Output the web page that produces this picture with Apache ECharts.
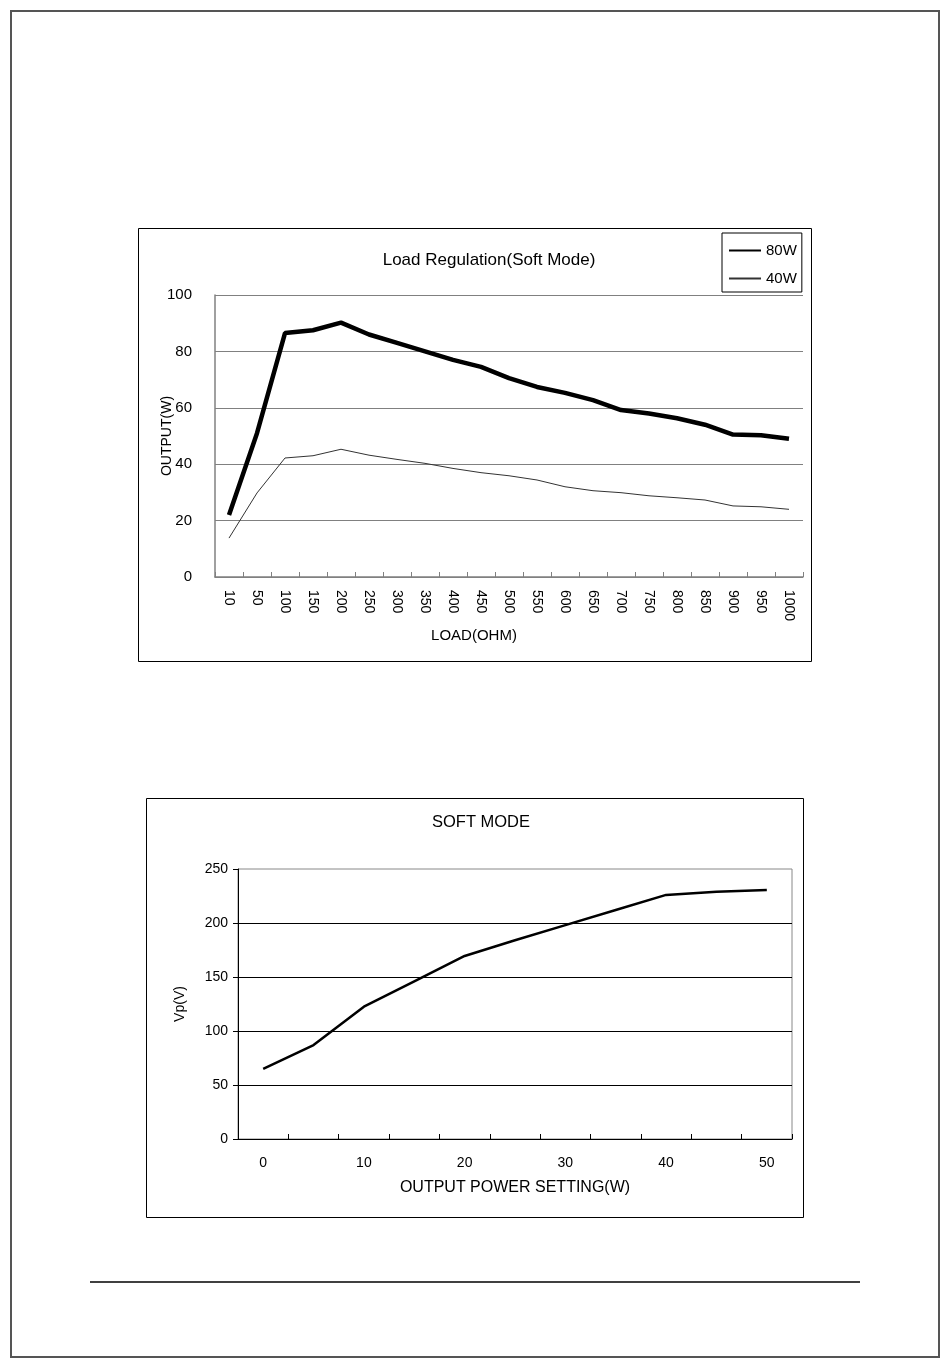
<!DOCTYPE html>
<html>
<head>
<meta charset="utf-8">
<script src="https://cdn.jsdelivr.net/npm/echarts@6/dist/echarts.min.js"></script>
<style>
html,body{margin:0;padding:0;background:#fff;}
#main{width:950px;height:1368px;}
</style>
</head>
<body>
<div id="main"></div>
<script>
// ---- Data ----
var loadCats = ['10','50','100','150','200','250','300','350','400','450','500','550','600','650','700','750','800','850','900','950','1000'];
var out80 = [22, 51, 86.5, 87.5, 90.2, 86, 83, 80, 77, 74.5, 70.5, 67.4, 65.3, 62.7, 59.2, 58, 56.3, 54, 50.5, 50.3, 49];
var out40 = [13.8, 29.8, 42.2, 43, 45.3, 43.2, 41.7, 40.3, 38.5, 37, 35.9, 34.4, 32, 30.6, 29.9, 28.8, 28.1, 27.3, 25.2, 24.9, 24];
var powerCats = ['0','5','10','15','20','25','30','35','40','45','50'];
var vp = [65, 87, 122.5, 146, 169.5, 184, 198, 212, 226, 229, 230.5];

var FONT = '"Liberation Sans", Arial, sans-serif';
var chart = echarts.init(document.getElementById('main'), null, {renderer: 'canvas'});

var option = {
  backgroundColor: '#fff',
  animation: false,
  textStyle: {fontFamily: FONT, color: '#000'},
  graphic: [
    {type: 'rect', shape: {x: 11, y: 11, width: 928, height: 1346}, style: {fill: 'none', stroke: '#555', lineWidth: 2}, silent: true},
    {type: 'rect', shape: {x: 138.5, y: 228.5, width: 673, height: 433}, style: {fill: 'none', stroke: '#000', lineWidth: 1}, silent: true},
    {type: 'rect', shape: {x: 146.5, y: 798.5, width: 657, height: 419}, style: {fill: 'none', stroke: '#000', lineWidth: 1}, silent: true},
    {type: 'line', shape: {x1: 90, y1: 1282, x2: 860, y2: 1282}, style: {stroke: '#000', lineWidth: 1.5}, silent: true},
    {type: 'text', x: 489, y: 260, style: {text: 'Load Regulation(Soft Mode)', font: '17px ' + FONT, fill: '#000', textAlign: 'center', textVerticalAlign: 'middle'}, silent: true},
    {type: 'text', x: 481, y: 822, style: {text: 'SOFT MODE', font: '16.5px ' + FONT, fill: '#000', textAlign: 'center', textVerticalAlign: 'middle'}, silent: true}
  ],
  legend: {
    data: ['80W', '40W'],
    orient: 'vertical',
    left: 722, top: 233,
    padding: [10, 5, 6, 6],
    itemWidth: 32, itemHeight: 14, itemGap: 13,
    itemStyle: {opacity: 0},
    borderColor: '#000', borderWidth: 1,
    textStyle: {fontSize: 15, fontFamily: FONT, color: '#000'}
  },
  grid: [
    {left: 215, right: 147, top: 295, bottom: 791, containLabel: false},
    {left: 238, right: 158, top: 869, bottom: 229, containLabel: false, show: true, borderColor: '#888', borderWidth: 1, backgroundColor: 'transparent'}
  ],
  xAxis: [
    {
      gridIndex: 0, type: 'category', data: loadCats, boundaryGap: true,
      name: 'LOAD(OHM)', nameLocation: 'middle', nameGap: 51, nameMoveOverlap: false,
      nameTextStyle: {fontSize: 15, fontFamily: FONT, color: '#000', padding: [0, 70, 0, 0]},
      axisLine: {show: true, lineStyle: {color: '#808080', width: 1.5}},
      axisTick: {show: true, inside: true, length: 5, interval: 0, alignWithLabel: false, lineStyle: {color: '#808080'}},
      axisLabel: {interval: 0, rotate: -90, margin: 13, fontSize: 14, fontFamily: FONT, color: '#000'},
      splitLine: {show: false}
    },
    {
      gridIndex: 1, type: 'category', data: powerCats, boundaryGap: true,
      name: 'OUTPUT POWER SETTING(W)', nameLocation: 'middle', nameGap: 41, nameMoveOverlap: false,
      nameTextStyle: {fontSize: 16, fontFamily: FONT, color: '#000'},
      axisLine: {show: true, lineStyle: {color: '#000', width: 1}},
      axisTick: {show: true, inside: true, length: 5, interval: 0, alignWithLabel: false, lineStyle: {color: '#000'}},
      axisLabel: {interval: 1, margin: 17, fontSize: 14, fontFamily: FONT, color: '#000'},
      splitLine: {show: false}
    }
  ],
  yAxis: [
    {
      gridIndex: 0, type: 'value', min: 0, max: 100, interval: 20,
      name: 'OUTPUT(W)', nameLocation: 'middle', nameGap: 41, nameRotate: 90, nameMoveOverlap: false,
      nameTextStyle: {fontSize: 14, fontFamily: FONT, color: '#000'},
      axisLine: {show: true, lineStyle: {color: '#808080', width: 1.5}},
      axisTick: {show: false},
      axisLabel: {margin: 23, fontSize: 15, fontFamily: FONT, color: '#000'},
      splitLine: {show: true, lineStyle: {color: '#808080', width: 1}}
    },
    {
      gridIndex: 1, type: 'value', min: 0, max: 250, interval: 50,
      name: 'Vp(V)', nameLocation: 'middle', nameGap: 51, nameRotate: 90, nameMoveOverlap: false,
      nameTextStyle: {fontSize: 14, fontFamily: FONT, color: '#000'},
      axisLine: {show: true, lineStyle: {color: '#000', width: 1}},
      axisTick: {show: true, inside: false, length: 5, lineStyle: {color: '#000'}},
      axisLabel: {margin: 10, fontSize: 14, fontFamily: FONT, color: '#000'},
      splitLine: {show: true, showMaxLine: false, lineStyle: {color: '#000', width: 1}}
    }
  ],
  series: [
    {name: '80W', type: 'line', xAxisIndex: 0, yAxisIndex: 0, data: out80, symbol: 'none',
     lineStyle: {color: '#000', width: 4.5}, itemStyle: {color: '#000'}},
    {name: '40W', type: 'line', xAxisIndex: 0, yAxisIndex: 0, data: out40, symbol: 'none',
     lineStyle: {color: '#333', width: 1}, itemStyle: {color: '#333'}},
    {name: 'Vp', type: 'line', xAxisIndex: 1, yAxisIndex: 1, data: vp, symbol: 'none',
     lineStyle: {color: '#000', width: 2.5}, itemStyle: {color: '#000'}}
  ]
};
chart.setOption(option);
</script>
</body>
</html>
